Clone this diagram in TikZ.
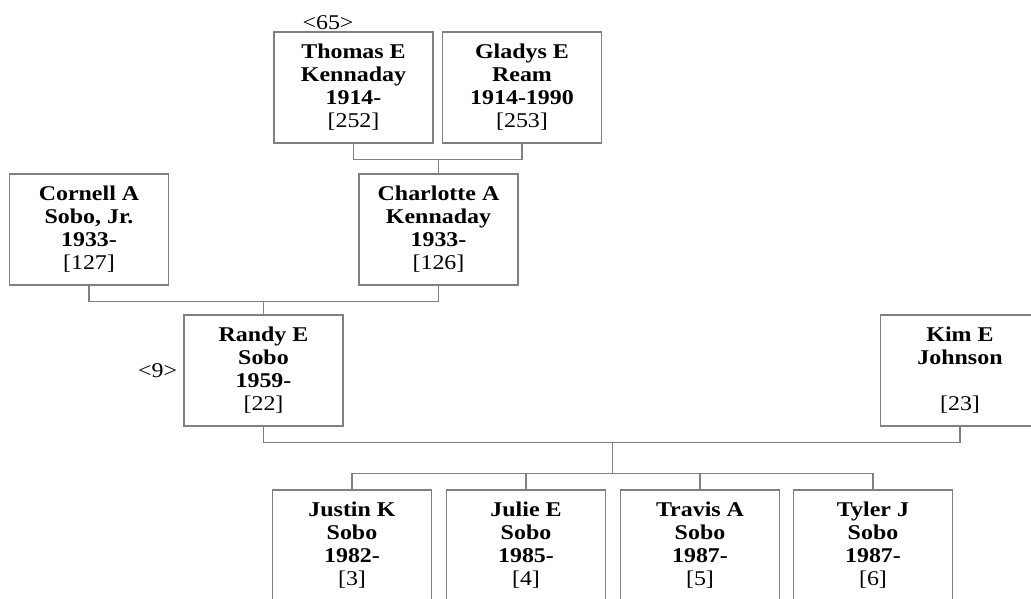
\documentclass[tikz,border=0pt]{standalone}
\usepackage{fontspec}
\setmainfont{Liberation Serif}[FakeStretch=1.14]
\usepackage{tikz}
\usetikzlibrary{calc}
\definecolor{lgray}{RGB}{128,128,128}
\tikzstyle{pnode} = [rectangle, draw=lgray, line width=1.2pt, minimum width=159pt, minimum height=111pt, align=center, inner sep=2pt, font=\fontsize{21}{23}\selectfont\bfseries]
\tikzstyle{tag} = [inner sep=0pt, font=\fontsize{21}{23}\selectfont]
\tikzstyle{line} = [draw=lgray, line width=1.2pt]
\newcommand{\pid}[1]{\mdseries[#1]}

\begin{document}
\begin{tikzpicture}[x=1pt, y=-1pt]
			\useasboundingbox (0,0) rectangle (1031,598);
			\node [pnode] (thomas) at (353.5, 87.5) {Thomas E\\Kennaday\\1914-\\ \pid{252}};
			\node [pnode] (gladys) at (522, 87.5) {Gladys E\\Ream\\1914-1990\\ \pid{253}};
			\node [pnode] (cornell) at (89, 229.5) {Cornell A\\Sobo, Jr.\\1933-\\ \pid{127}};
			\node [pnode] (charlotte) at (438.5, 229.5) {Charlotte A\\Kennaday\\1933-\\ \pid{126}};
			\node [pnode] (randy) at (263.5, 370.5) {Randy E\\Sobo\\1959-\\ \pid{22}};
			\node [pnode] (kim) at (960, 370.5) {Kim E\\Johnson\\\mbox{}\\ \pid{23}};
			\node [pnode] (justin) at (352, 545.5) {Justin K\\Sobo\\1982-\\ \pid{3}};
			\node [pnode] (julie) at (526, 545.5) {Julie E\\Sobo\\1985-\\ \pid{4}};
			\node [pnode] (travis) at (700, 545.5) {Travis A\\Sobo\\1987-\\ \pid{5}};
			\node [pnode] (tyler) at (873, 545.5) {Tyler J\\Sobo\\1987-\\ \pid{6}};
			\node [tag, above=1pt] (g65) at (thomas.north -| 328,0) {<65>};
			\node [tag, left=6pt] (g9) at (randy.west) {<9>};
			
			\path [line] (thomas.south) -- ++(0,16) coordinate (f1) -| (gladys.south);
			\path [line] (charlotte.north) -- (charlotte.north |- f1);
			\path [line] (cornell.south) -- ++(0,16) coordinate (f2) -| (charlotte.south);
			\path [line] (randy.north) -- (randy.north |- f2);
			\path [line] (randy.south) -- ++(0,16) coordinate (f3) -| (kim.south);
			\path [line] (justin.north) -- ++(0,-16) coordinate (s1) -| (tyler.north);
			\path [line] (julie.north) -- (julie.north |- s1);
			\path [line] (travis.north) -- (travis.north |- s1);
			\coordinate (s2) at ($(justin.north)!0.5!(tyler.north)$);
			\path [line] (s2 |- s1) -- (s2 |- f3);
		\end{tikzpicture}
\end{document}
